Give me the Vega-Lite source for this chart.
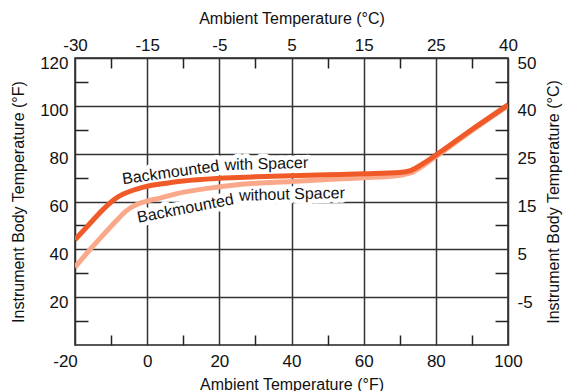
{
  "$schema": "https://vega.github.io/schema/vega-lite/v6.json",
  "width": 433,
  "height": 287,
  "autosize": {"type": "none"},
  "padding": {"left": 75, "top": 58, "right": 59, "bottom": 46},
  "background": "white",
  "config": {
    "view": {"stroke": "#222", "strokeWidth": 1.5},
    "font": "Liberation Sans",
    "axis": {
      "labelFont": "Liberation Sans",
      "titleFont": "Liberation Sans",
      "labelFontSize": 17,
      "titleFontSize": 16,
      "titleFontWeight": "normal",
      "labelColor": "#111",
      "titleColor": "#111",
      "domain": false,
      "ticks": false,
      "grid": false,
      "tickColor": "#222",
      "tickWidth": 1.5,
      "gridColor": "#333",
      "gridWidth": 1.5,
      "gridOpacity": 1,
      "labelFlush": false,
      "labelOverlap": false
    }
  },
  "datasets": {
    "curves": [
      {"series": "without", "F": -20, "T": 32.5},
      {"series": "without", "F": -15.8, "T": 40},
      {"series": "without", "F": -12.2, "T": 46},
      {"series": "without", "F": -8.4, "T": 52.2},
      {"series": "without", "F": -5.7, "T": 56.2},
      {"series": "without", "F": -2.9, "T": 58.7},
      {"series": "without", "F": 0.3, "T": 60.3},
      {"series": "without", "F": 3.6, "T": 61.4},
      {"series": "without", "F": 8.2, "T": 63.3},
      {"series": "without", "F": 17.4, "T": 65.6},
      {"series": "without", "F": 25, "T": 67.0},
      {"series": "without", "F": 40, "T": 68.4},
      {"series": "without", "F": 50, "T": 69.2},
      {"series": "without", "F": 60, "T": 69.9},
      {"series": "without", "F": 70, "T": 71.0},
      {"series": "without", "F": 73, "T": 71.9},
      {"series": "without", "F": 76, "T": 74.5},
      {"series": "without", "F": 80, "T": 78.8},
      {"series": "without", "F": 90, "T": 89.6},
      {"series": "without", "F": 100, "T": 100.0},
      {"series": "with", "F": -20, "T": 44},
      {"series": "with", "F": -15.8, "T": 50.9},
      {"series": "with", "F": -12.2, "T": 56.7},
      {"series": "with", "F": -8.4, "T": 61.6},
      {"series": "with", "F": -6.6, "T": 63.1},
      {"series": "with", "F": -2.9, "T": 65.2},
      {"series": "with", "F": 0.3, "T": 66.5},
      {"series": "with", "F": 3.6, "T": 67.3},
      {"series": "with", "F": 10, "T": 68.6},
      {"series": "with", "F": 20, "T": 69.7},
      {"series": "with", "F": 30, "T": 70.3},
      {"series": "with", "F": 40, "T": 70.8},
      {"series": "with", "F": 50, "T": 71.2},
      {"series": "with", "F": 60, "T": 71.6},
      {"series": "with", "F": 70, "T": 72.1},
      {"series": "with", "F": 73, "T": 72.9},
      {"series": "with", "F": 76, "T": 75.4},
      {"series": "with", "F": 80, "T": 79.4},
      {"series": "with", "F": 90, "T": 90.1},
      {"series": "with", "F": 100, "T": 100.4}
    ],
    "labels": [
      {"piece": "a", "text": "Backmounted", "F": -6.7, "T": 67.2},
      {"piece": "b", "text": "with Spacer", "F": 21.5, "T": 73.1},
      {"piece": "c", "text": "Backmounted", "F": -2.45, "T": 51.1},
      {"piece": "d", "text": "without Spacer", "F": 25.5, "T": 60.3}
    ]
  },
  "layer": [
    {
      "data": {"name": "labels"},
      "transform": [{"filter": "datum.piece == 'a'"}],
      "mark": {"type": "text", "font": "Liberation Sans", "fontSize": 16, "align": "left", "baseline": "alphabetic", "angle": 352, "fill": "white", "stroke": "white", "strokeWidth": 9, "strokeJoin": "round"},
      "encoding": {
        "x": {"field": "F", "type": "quantitative", "scale": {"domain": [-20, 100], "nice": false, "zero": false},
          "axis": {"orient": "bottom", "values": [-20, 0, 20, 40, 60, 80, 100], "grid": true, "labelPadding": 8, "title": "Ambient Temperature (°F)", "titlePadding": 7,
            "labelExpr": "datum.value == -20 ? '-20' : datum.label",
            "labelOffset": {"condition": {"test": "datum.value == -20", "value": -10}, "value": 0}}},
        "y": {"field": "T", "type": "quantitative", "scale": {"domain": [0, 120], "nice": false, "zero": false},
          "axis": {"orient": "left", "values": [20, 40, 60, 80, 100, 120], "grid": true, "labelPadding": 7, "labelOffset": 5, "title": "Instrument Body Temperature (°F)", "titlePadding": 13}},
        "text": {"field": "text"}
      }
    },
    {
      "data": {"name": "labels"},
      "transform": [{"filter": "datum.piece == 'b'"}],
      "mark": {"type": "text", "font": "Liberation Sans", "fontSize": 16, "align": "left", "baseline": "alphabetic", "angle": 358.5, "fill": "white", "stroke": "white", "strokeWidth": 9, "strokeJoin": "round"},
      "encoding": {
        "x": {"field": "F", "type": "quantitative",
          "axis": {"orient": "top", "values": [-20, 0, 20, 40, 60, 80, 100], "labelPadding": 4, "title": "Ambient Temperature (°C)", "titlePadding": 10,
            "labelExpr": "datum.value == -20 ? '-30' : datum.value == 0 ? '-15' : datum.value == 20 ? '-5' : datum.value == 40 ? '5' : datum.value == 60 ? '15' : datum.value == 80 ? '25' : '40'"}},
        "y": {"field": "T", "type": "quantitative",
          "axis": {"orient": "right", "values": [20, 40, 60, 80, 100, 120], "labelPadding": 9, "labelOffset": 5, "title": "Instrument Body Temperature (°C)", "titlePadding": 26, "titleAngle": 270,
            "labelExpr": "datum.value == 120 ? '50' : datum.value == 100 ? '40' : datum.value == 80 ? '25' : datum.value == 60 ? '15' : datum.value == 40 ? '5' : '-5'"}},
        "text": {"field": "text"}
      }
    },
    {
      "data": {"name": "labels"},
      "transform": [{"filter": "datum.piece == 'c'"}],
      "mark": {"type": "text", "font": "Liberation Sans", "fontSize": 16, "align": "left", "baseline": "alphabetic", "angle": 349, "fill": "white", "stroke": "white", "strokeWidth": 9, "strokeJoin": "round"},
      "encoding": {
        "x": {"field": "F", "type": "quantitative",
          "axis": {"orient": "bottom", "offset": -10, "values": [-10, 10, 30, 50, 70, 90], "ticks": true, "tickSize": 10, "labels": false, "title": null}},
        "y": {"field": "T", "type": "quantitative",
          "axis": {"orient": "left", "offset": -13, "values": [10, 30, 50, 70, 90, 110], "ticks": true, "tickSize": 13, "labels": false, "title": null}},
        "text": {"field": "text"}
      }
    },
    {
      "data": {"name": "labels"},
      "transform": [{"filter": "datum.piece == 'd'"}],
      "mark": {"type": "text", "font": "Liberation Sans", "fontSize": 16, "align": "left", "baseline": "alphabetic", "angle": 358.5, "fill": "white", "stroke": "white", "strokeWidth": 9, "strokeJoin": "round"},
      "encoding": {
        "x": {"field": "F", "type": "quantitative",
          "axis": {"orient": "top", "offset": -10, "values": [-10, 10, 30, 50, 70, 90], "ticks": true, "tickSize": 10, "labels": false, "title": null}},
        "y": {"field": "T", "type": "quantitative",
          "axis": {"orient": "right", "offset": -13, "values": [10, 30, 50, 70, 90, 110], "ticks": true, "tickSize": 13, "labels": false, "title": null}},
        "text": {"field": "text"}
      }
    },
    {
      "data": {"name": "curves"},
      "transform": [{"filter": "datum.series == 'without'"}],
      "mark": {"type": "line", "color": "#F9A98A", "strokeWidth": 5, "clip": true, "strokeCap": "butt", "interpolate": "monotone"},
      "encoding": {
        "x": {"field": "F", "type": "quantitative", "axis": null},
        "y": {"field": "T", "type": "quantitative", "axis": null}
      }
    },
    {
      "data": {"name": "curves"},
      "transform": [{"filter": "datum.series == 'with'"}],
      "mark": {"type": "line", "color": "#F05A28", "strokeWidth": 5, "clip": true, "strokeCap": "butt", "interpolate": "monotone"},
      "encoding": {
        "x": {"field": "F", "type": "quantitative", "axis": null},
        "y": {"field": "T", "type": "quantitative", "axis": null}
      }
    },
    {
      "data": {"name": "labels"},
      "transform": [{"filter": "datum.piece == 'a'"}],
      "mark": {"type": "text", "font": "Liberation Sans", "fontSize": 16, "align": "left", "baseline": "alphabetic", "angle": 352, "color": "#111"},
      "encoding": {
        "x": {"field": "F", "type": "quantitative", "axis": null},
        "y": {"field": "T", "type": "quantitative", "axis": null},
        "text": {"field": "text"}
      }
    },
    {
      "data": {"name": "labels"},
      "transform": [{"filter": "datum.piece == 'b'"}],
      "mark": {"type": "text", "font": "Liberation Sans", "fontSize": 16, "align": "left", "baseline": "alphabetic", "angle": 358.5, "color": "#111"},
      "encoding": {
        "x": {"field": "F", "type": "quantitative", "axis": null},
        "y": {"field": "T", "type": "quantitative", "axis": null},
        "text": {"field": "text"}
      }
    },
    {
      "data": {"name": "labels"},
      "transform": [{"filter": "datum.piece == 'c'"}],
      "mark": {"type": "text", "font": "Liberation Sans", "fontSize": 16, "align": "left", "baseline": "alphabetic", "angle": 349, "color": "#111"},
      "encoding": {
        "x": {"field": "F", "type": "quantitative", "axis": null},
        "y": {"field": "T", "type": "quantitative", "axis": null},
        "text": {"field": "text"}
      }
    },
    {
      "data": {"name": "labels"},
      "transform": [{"filter": "datum.piece == 'd'"}],
      "mark": {"type": "text", "font": "Liberation Sans", "fontSize": 16, "align": "left", "baseline": "alphabetic", "angle": 358.5, "color": "#111"},
      "encoding": {
        "x": {"field": "F", "type": "quantitative", "axis": null},
        "y": {"field": "T", "type": "quantitative", "axis": null},
        "text": {"field": "text"}
      }
    }
  ],
  "resolve": {"axis": {"x": "independent", "y": "independent"}}
}
